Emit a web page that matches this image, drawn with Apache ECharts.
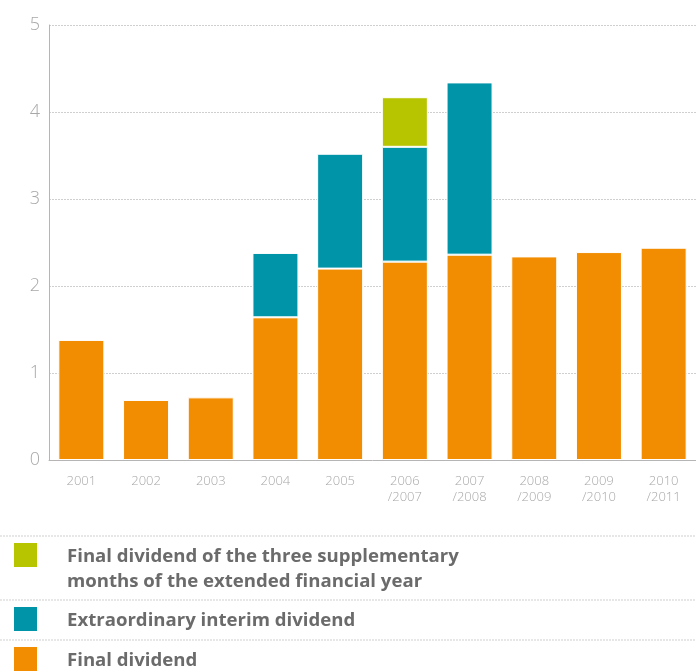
<!DOCTYPE html>
<html><head><meta charset="utf-8">
<script src="https://cdn.jsdelivr.net/npm/echarts@6/dist/echarts.min.js"></script>
<style>html,body{margin:0;padding:0;background:#fff}#c{width:696px;height:672px}</style>
</head><body><div id="c"></div>
<script>
var categories = ['2001','2002','2003','2004','2005','2006\n/2007','2007\n/2008','2008\n/2009','2009\n/2010','2010\n/2011'];
var finalDividend = [1.38, 0.69, 0.72, 1.64, 2.20, 2.28, 2.36, 2.34, 2.39, 2.44];
var extraordinaryInterim = [0, 0, 0, 0.74, 1.32, 1.32, 1.98, 0, 0, 0];
var supplementaryFinal = [0, 0, 0, 0, 0, 0.57, 0, 0, 0, 0];
var yTicks = [0, 1, 2, 3, 4, 5];
var names = ['Final dividend of the three supplementary\nmonths of the extended financial year', 'Extraordinary interim dividend', 'Final dividend'];
var colors = ['#b7c400', '#0094a8', '#f28c00'];

var chart = echarts.init(document.getElementById('c'));
function nz(a){ return a.map(function(v){ return v === 0 ? '-' : v; }); }
var legendFont = {fill:'#6b6b6b', fontSize:18.6, fontWeight:'bold', fontFamily:'Open Sans', lineHeight:25};
var legendTops = [543, 607, 647];
var graphic = [
  {type:'line', shape:{x1:0,y1:536,x2:696,y2:536}, style:{stroke:'#cfcfcf', lineWidth:1, lineDash:[2,1]}},
  {type:'line', shape:{x1:0,y1:600,x2:696,y2:600}, style:{stroke:'#cfcfcf', lineWidth:1, lineDash:[2,1]}},
  {type:'line', shape:{x1:0,y1:640,x2:696,y2:640}, style:{stroke:'#cfcfcf', lineWidth:1, lineDash:[2,1]}}
];
names.forEach(function(n, i){
  graphic.push({type:'rect', shape:{x:14, y:legendTops[i], width:23, height:24}, style:{fill:colors[i]}});
  graphic.push({type:'text', x:67, y:legendTops[i] + 1, style:Object.assign({text:n, textVerticalAlign:'top'}, legendFont)});
});
chart.setOption({
  animation:false,
  grid:{left:49, right:-6, top:25, bottom:212},
  xAxis:{type:'category', data:categories,
    axisLine:{lineStyle:{color:'#b5b5b5', width:1}},
    axisTick:{inside:true, length:6, lineStyle:{color:'#c0c0c0'}},
    axisLabel:{color:'#a8a8a8', fontSize:13, fontFamily:'Open Sans', fontWeight:300, margin:13, lineHeight:16}},
  yAxis:{type:'value', min:0, max:5, interval:1,
    axisLine:{show:true, lineStyle:{color:'#b5b5b5'}},
    axisTick:{show:false},
    axisLabel:{color:'#a8a8a8', fontSize:18, fontFamily:'Open Sans', fontWeight:300, margin:9, padding:[0,0,10,0],
      formatter:function(v){ return yTicks.indexOf(v) >= 0 ? String(v) : ''; }},
    splitLine:{lineStyle:{color:'#cfcfcf', type:[2,1]}}},
  graphic:graphic,
  series:[
    {name:names[2], type:'bar', stack:'d', data:finalDividend, barWidth:46, itemStyle:{color:colors[2], borderColor:'#fff', borderWidth:1}},
    {name:names[1], type:'bar', stack:'d', data:nz(extraordinaryInterim), barWidth:46, itemStyle:{color:colors[1], borderColor:'#fff', borderWidth:1}},
    {name:names[0], type:'bar', stack:'d', data:nz(supplementaryFinal), barWidth:46, itemStyle:{color:colors[0], borderColor:'#fff', borderWidth:1}}
  ]
});
</script></body></html>
